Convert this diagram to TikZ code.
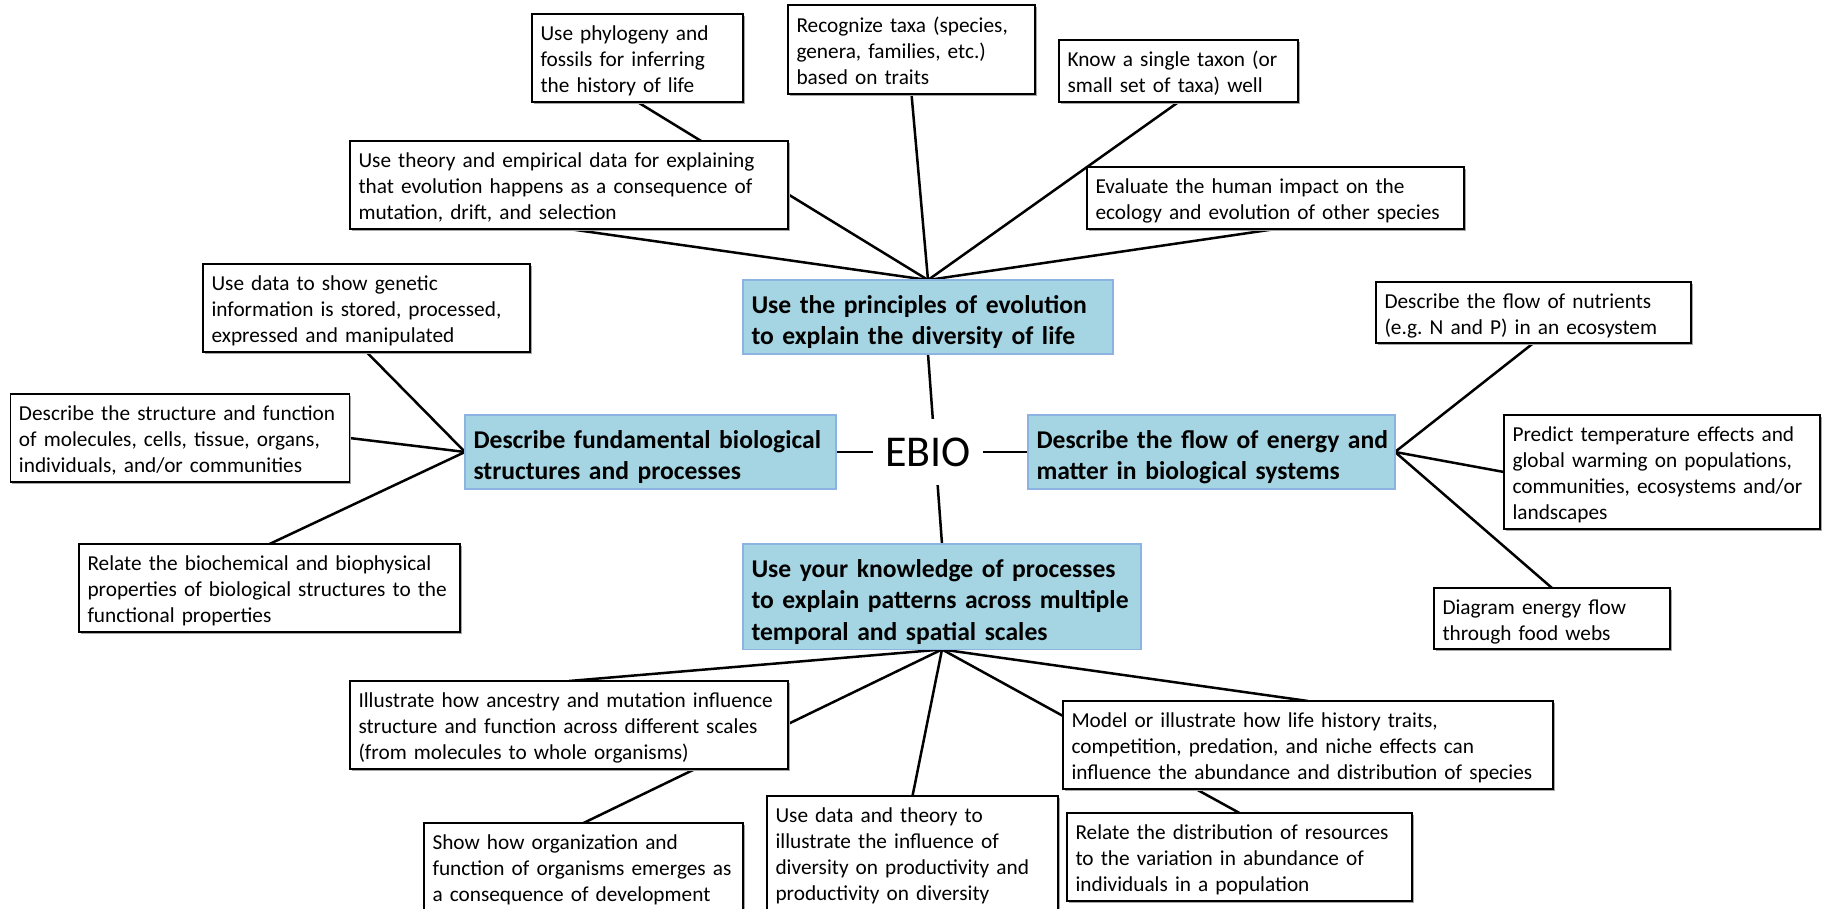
\documentclass[tikz,border=0pt]{standalone}
\usepackage{fontspec}
\setmainfont{Carlito}
\usepackage{tikz}
\usetikzlibrary{backgrounds,shadows}

\definecolor{goalfill}{HTML}{A5D5E2}
\definecolor{goalline}{HTML}{8DB3E2}

% one line of the box per row, never rewrapped
\newcommand{\boxlines}[1]{\begin{tabular}[t]{@{}l@{}}#1\end{tabular}}
\frenchspacing

\begin{document}
\begin{tikzpicture}[x=1pt,y=-1pt,
    leaf/.style={draw=black, line width=1.5pt, fill=white, anchor=north west, align=left,
      inner xsep=8.5pt, inner ysep=0pt, outer sep=0pt, text height=25pt,
      font=\fontsize{21.3}{26}\selectfont,
      drop shadow={shadow xshift=1.5pt, shadow yshift=-1.5pt, fill=black!35, opacity=1}},
    goal/.style={draw=goalline, line width=1.5pt, fill=goalfill, anchor=north west, align=left,
      inner xsep=8.5pt, inner ysep=0pt, outer sep=0pt, text height=33pt,
      font=\bfseries\fontsize{25.6}{31.5}\selectfont},
    link/.style={line width=2.5pt, black}]
		\useasboundingbox (0,0) rectangle (1828,908);
		\clip (0,0) rectangle (1828,908);
		
		% centre
		\node[fill=white, inner xsep=12pt, inner ysep=19pt, font=\fontsize{44}{53}\selectfont] (ebio) at (928,452) {EBIO};
		
		% the four goals
		\node[goal, text width=353pt, minimum height=72pt] (evol) at (743,280) {\boxlines{Use the principles of evolution\\to explain the diversity of life}};
		\node[goal, text width=354pt, minimum height=72pt] (fund) at (465,415) {\boxlines{Describe fundamental biological\\structures and processes}};
		\node[goal, text width=350pt, minimum height=72pt] (flow) at (1028,415) {\boxlines{Describe the flow of energy and\\matter in biological systems}};
		\node[goal, text width=381pt, minimum height=104pt] (proc) at (743,544) {\boxlines{Use your knowledge of processes\\to explain patterns across multiple\\temporal and spatial scales}};
		
		% evolution
		\node[leaf, text width=194pt, minimum height=88pt] (phylo) at (532,14) {\boxlines{Use phylogeny and\\fossils for inferring\\the history of life}};
		\node[leaf, text width=230pt, minimum height=89pt] (taxa) at (788,5) {\boxlines{Recognize taxa (species,\\genera, families, etc.)\\based on traits}};
		\node[leaf, text width=222pt, minimum height=62pt] (single) at (1059,40) {\boxlines{Know a single taxon (or\\small set of taxa) well}};
		\node[leaf, text width=421pt, minimum height=88pt] (theory) at (350,141) {\boxlines{Use theory and empirical data for explaining\\that evolution happens as a consequence of\\mutation, drift, and selection}};
		\node[leaf, text width=360pt, minimum height=62pt] (impact) at (1087,167) {\boxlines{Evaluate the human impact on the\\ecology and evolution of other species}};
		
		% structures and processes
		\node[leaf, text width=310pt, minimum height=88pt] (genetic) at (203,264) {\boxlines{Use data to show genetic\\information is stored, processed,\\expressed and manipulated}};
		\node[leaf, text width=322pt, minimum height=88pt] (struct) at (10.5,394) {\boxlines{Describe the structure and function\\of molecules, cells, tissue, organs,\\individuals, and/or communities}};
		\node[leaf, text width=364pt, minimum height=88pt] (biochem) at (79,544) {\boxlines{Relate the biochemical and biophysical\\properties of biological structures to the\\functional properties}};
		
		% energy and matter
		\node[leaf, text width=298pt, minimum height=61pt] (nutri) at (1376,282) {\boxlines{Describe the flow of nutrients\\(e.g. N and P) in an ecosystem}};
		\node[leaf, text width=299pt, minimum height=114pt] (temp) at (1504,415) {\boxlines{Predict temperature effects and\\global warming on populations,\\communities, ecosystems and/or\\landscapes}};
		\node[leaf, text width=219pt, minimum height=61pt] (web) at (1434,588) {\boxlines{Diagram energy flow\\through food webs}};
		
		% scales
		\node[leaf, text width=421pt, minimum height=88pt] (ancestry) at (350,681) {\boxlines{Illustrate how ancestry and mutation influence\\structure and function across different scales\\(from molecules to whole organisms)}};
		\node[leaf, text width=302pt, minimum height=88pt] (devel) at (424,823) {\boxlines{Show how organization and\\function of organisms emerges as\\a consequence of development}};
		\node[leaf, text width=274pt, minimum height=114pt] (divers) at (767,796) {\boxlines{Use data and theory to\\illustrate the influence of\\diversity on productivity and\\productivity on diversity}};
		\node[leaf, text width=473pt, minimum height=88pt] (niche) at (1063,701) {\boxlines{Model or illustrate how life history traits,\\competition, predation, and niche effects can\\influence the abundance and distribution of species}};
		\node[leaf, text width=328pt, minimum height=88pt] (resour) at (1067,813) {\boxlines{Relate the distribution of resources\\to the variation in abundance of\\individuals in a population}};
		
		\begin{scope}[on background layer]
			\draw[link] (evol.south) -- (proc.north);
			\draw[link] (fund.east) -- (flow.west);
			
			\foreach \leaf in {phylo,theory,taxa,single,impact}
				\draw[link] (\leaf.south) -- (evol.north);
			
			\draw[link] (genetic.south) -- (fund.west);
			\draw[link] (struct.east) -- (fund.west);
			\draw[link] (biochem.north) -- (fund.west);
			
			\draw[link] (nutri.south) -- (flow.east);
			\draw[link] (temp.west) -- (flow.east);
			\draw[link] (web.north) -- (flow.east);
			
			\foreach \leaf in {ancestry,devel,divers,niche,resour}
				\draw[link] (\leaf.north) -- (proc.south);
		\end{scope}
	\end{tikzpicture}
\end{document}
